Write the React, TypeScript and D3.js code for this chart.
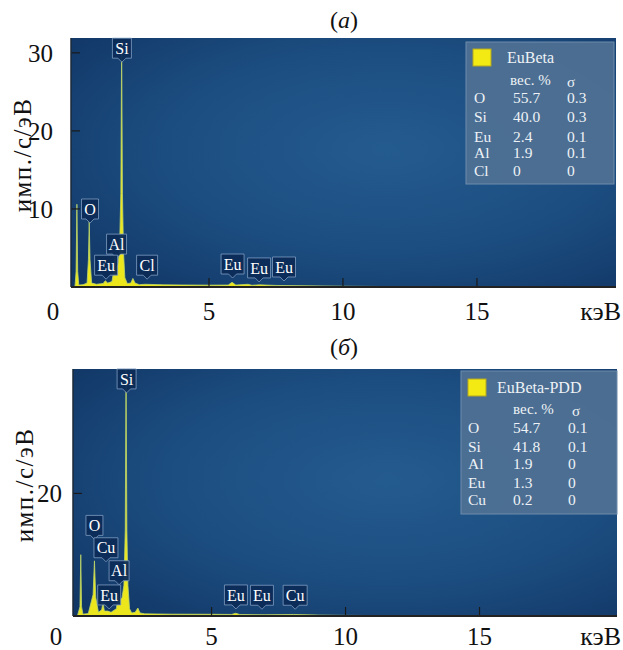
import React from 'react';
import * as d3 from 'd3';

// ---------- data ----------
const xTickValues = [5, 10, 15];
const yTicksA = [10, 20, 30];
const yTicksB = [20];

// spectrum points [keV, counts]
const spectrumA: [number, number][] = [
  [-0.15, 0], [0.0, 0.1], [0.04, 2], [0.07, 10.6], [0.1, 2], [0.14, 0.25], [0.3, 0.3],
  [0.45, 0.5], [0.5, 3.5], [0.53, 8.4], [0.56, 3.5], [0.62, 0.5], [0.8, 0.35],
  [1.05, 0.45], [1.13, 0.8], [1.22, 0.5], [1.38, 0.7], [1.45, 2.2], [1.49, 3.8],
  [1.53, 2.6], [1.6, 2.8], [1.66, 4.6], [1.71, 12], [1.74, 31.5], [1.77, 12],
  [1.81, 4.4], [1.86, 1.2], [1.95, 0.45], [2.08, 0.5], [2.16, 1.1], [2.24, 0.5],
  [2.4, 0.3], [2.62, 0.35], [3.3, 0.28], [4.0, 0.26], [5.0, 0.24], [5.72, 0.25],
  [5.86, 0.6], [6.0, 0.25], [6.46, 0.35], [6.6, 0.22], [6.88, 0.28], [7.5, 0.2],
  [8.5, 0.16], [10, 0.1], [12, 0.05], [20.3, 0.03],
];

const spectrumB: [number, number][] = [
  [-0.2, 0], [0.0, 0.1], [0.09, 1.5], [0.12, 10], [0.15, 1.5], [0.2, 0.3], [0.4, 0.4],
  [0.58, 3.5], [0.63, 9.0], [0.68, 3], [0.78, 0.6], [0.9, 1.0], [0.95, 2.2],
  [1.0, 0.8], [1.13, 0.8], [1.25, 0.6], [1.45, 1.2], [1.52, 3.6], [1.57, 2.5],
  [1.66, 3], [1.73, 5], [1.78, 14], [1.81, 40.5], [1.84, 14], [1.88, 5],
  [1.94, 1.2], [2.02, 0.5], [2.15, 0.6], [2.25, 1.3], [2.33, 0.5], [2.5, 0.35],
  [3.5, 0.3], [5.0, 0.28], [5.75, 0.25], [5.9, 0.45], [6.05, 0.25], [7.0, 0.2],
  [8.05, 0.25], [9, 0.15], [10, 0.1], [12, 0.05], [20.3, 0.03],
];

// peak labels: element, energy of pointer (keV), count level of pointer tip
const labelNamesA = ['Si', 'O', 'Al', 'Eu', 'Cl', 'Eu', 'Eu', 'Eu'];
const labelEnergiesA = [1.75, 0.56, 1.55, 1.16, 2.69, 5.88, 6.87, 7.8];
const labelLevelsA = [28.8, 8.2, 3.7, 1.0, 1.0, 1.15, 0.65, 0.77];

const labelNamesB = ['Si', 'O', 'Cu', 'Al', 'Eu', 'Eu', 'Eu', 'Cu'];
const labelEnergiesB = [1.83, 0.63, 1.06, 1.55, 1.18, 5.91, 6.88, 8.12];
const labelLevelsB = [36.4, 12.5, 8.85, 5.1, 1.15, 1.15, 1.1, 1.1];

const legendTitleA = 'EuBeta';
const legendElementsA = ['O', 'Si', 'Eu', 'Al', 'Cl'];
const legendWeightsA = ['55.7', '40.0', '2.4', '1.9', '0'];
const legendSigmasA = ['0.3', '0.3', '0.1', '0.1', '0'];

const legendTitleB = 'EuBeta-PDD';
const legendElementsB = ['O', 'Si', 'Al', 'Eu', 'Cu'];
const legendWeightsB = ['54.7', '41.8', '1.9', '1.3', '0.2'];
const legendSigmasB = ['0.1', '0.1', '0', '0', '0'];

// ---------- layout / style ----------
const SERIF = '"Liberation Serif", "Times New Roman", serif';
const boxWidths: Record<string, number> = { O: 17, Si: 19, Al: 20, Eu: 23, Cl: 21, Cu: 24 };

type PanelProps = {
  id: string;
  title: string;
  titleY: number;
  plot: { x0: number; x1: number; y0: number; y1: number };
  xDomain: [number, number];
  yDomain: [number, number];
  yTicks: number[];
  spectrum: [number, number][];
  labelNames: string[];
  labelEnergies: number[];
  labelLevels: number[];
  legend: {
    x: number; y: number; w: number; h: number;
    title: string; titleX: number; titleY: number;
    headX: number; sigmaX: number; headY: number;
    colEl: number; colVal: number; colSig: number;
    rowY: number[];
    elements: string[]; weights: string[]; sigmas: string[];
  };
  zeroX: number;
  xLabelY: number;
  yLabelPos: [number, number];
  yTickLabelRight: number;
};

function Panel(p: PanelProps) {
  const { plot } = p;
  const x = d3.scaleLinear().domain(p.xDomain).range([plot.x0, plot.x1]);
  const y = d3.scaleLinear().domain(p.yDomain).range([plot.y1, plot.y0]);
  const area = d3
    .area<[number, number]>()
    .x((d) => x(d[0]))
    .y0(y(0))
    .y1((d) => y(Math.min(d[1], p.yDomain[1] + 1)));
  const gid = `bg-${p.id}`;
  const cid = `clip-${p.id}`;
  const L = p.legend;
  return (
    <g>
      <defs>
        <radialGradient id={gid} cx="58%" cy="45%" r="75%">
          <stop offset="0%" stopColor="#245b8f" />
          <stop offset="55%" stopColor="#1c4d80" />
          <stop offset="100%" stopColor="#113766" />
        </radialGradient>
        <clipPath id={cid}>
          <rect x={plot.x0} y={plot.y0} width={plot.x1 - plot.x0} height={plot.y1 - plot.y0} />
        </clipPath>
      </defs>
      <text x={344} y={p.titleY} textAnchor="middle" fontFamily={SERIF} fontSize={24} fill="#111">
        (<tspan fontStyle="italic">{p.title}</tspan>)
      </text>
      <rect x={plot.x0} y={plot.y0} width={plot.x1 - plot.x0} height={plot.y1 - plot.y0} fill={`url(#${gid})`} />
      <g clipPath={`url(#${cid})`}>
        <path d={area(p.spectrum) || ''} fill="#ece61c" stroke="#bcd56c" strokeWidth={0.8} strokeLinejoin="round" />
      </g>
      {/* ticks */}
      {xTickValues.map((t) => (
        <line key={`xt${t}`} x1={x(t)} x2={x(t)} y1={plot.y1} y2={plot.y1 - 9} stroke="#1a1a1a" strokeWidth={1.2} />
      ))}
      {p.yTicks.map((t) => (
        <line key={`yt${t}`} x1={plot.x0} x2={plot.x0 + 9} y1={y(t)} y2={y(t)} stroke="#1a1a1a" strokeWidth={1.2} />
      ))}
      <line x1={plot.x0} x2={plot.x1} y1={plot.y1} y2={plot.y1} stroke="#222" strokeWidth={2} />
      <line x1={plot.x0} x2={plot.x0} y1={plot.y0} y2={plot.y1} stroke="#1d2a38" strokeWidth={1.5} />
      {/* tick labels */}
      <text x={p.zeroX} y={p.xLabelY} dy="0.35em" textAnchor="middle" fontFamily={SERIF} fontSize={25} fill="#111">0</text>
      {xTickValues.map((t) => (
        <text key={`xl${t}`} x={x(t)} y={p.xLabelY} dy="0.35em" textAnchor="middle" fontFamily={SERIF} fontSize={25} fill="#111">
          {t}
        </text>
      ))}
      <text x={621} y={p.xLabelY} dy="0.35em" textAnchor="end" fontFamily={SERIF} fontSize={26} fill="#111">кэВ</text>
      {p.yTicks.map((t) => (
        <text key={`yl${t}`} x={p.yTickLabelRight} y={y(t)} dy="0.35em" textAnchor="end" fontFamily={SERIF} fontSize={25} fill="#111">
          {t}
        </text>
      ))}
      <text
        transform={`translate(${p.yLabelPos[0]},${p.yLabelPos[1]}) rotate(-90)`}
        dy="0.35em"
        textAnchor="middle"
        fontFamily={SERIF}
        fontSize={25}
        letterSpacing={1.5}
        fill="#111"
      >
        имп./с/эВ
      </text>
      {/* peak labels */}
      {p.labelNames.map((name, i) => {
        const cx = x(p.labelEnergies[i]);
        const tip = y(p.labelLevels[i]);
        const w = boxWidths[name] || 20;
        const bottom = tip - 4;
        const top = bottom - 20;
        const l = cx - w / 2;
        const r = cx + w / 2;
        const d = `M${l},${top}H${r}V${bottom}H${cx + 4}L${cx},${tip}L${cx - 4},${bottom}H${l}Z`;
        return (
          <g key={`lab${i}`}>
            <path d={d} fill="#0c2b57" fillOpacity={0.95} stroke="#7f9ec2" strokeWidth={1} strokeOpacity={0.8} />
            <text x={cx} y={(top + bottom) / 2} dy="0.35em" textAnchor="middle" fontFamily={SERIF} fontSize={16} fill="#ffffff">
              {name}
            </text>
          </g>
        );
      })}
      {/* legend */}
      <g transform={`translate(${L.x},${L.y})`}>
        <rect width={L.w} height={L.h} fill="#4f7194" fillOpacity={0.92} stroke="#6f8cab" strokeWidth={1} />
        <rect x={7} y={L.titleY - 8} width={18} height={17} fill="#f2ea12" stroke="#b5a820" strokeWidth={1} />
        <text x={L.titleX} y={L.titleY} dy="0.35em" fontFamily={SERIF} fontSize={16} fill="#eef2f6">{L.title}</text>
        <text x={L.headX} y={L.headY} dy="0.35em" fontFamily={SERIF} fontSize={15} fill="#eef2f6">вес. %</text>
        <text x={L.sigmaX} y={L.headY + 2} dy="0.3em" fontFamily={SERIF} fontSize={15} fill="#eef2f6">σ</text>
        {L.elements.map((el, i) => (
          <g key={`lg${i}`}>
            <text x={L.colEl} y={L.rowY[i]} dy="0.35em" fontFamily={SERIF} fontSize={15.5} fill="#eef2f6">{el}</text>
            <text x={L.colVal} y={L.rowY[i]} dy="0.35em" fontFamily={SERIF} fontSize={15.5} fill="#eef2f6">{L.weights[i]}</text>
            <text x={L.colSig} y={L.rowY[i]} dy="0.35em" fontFamily={SERIF} fontSize={15.5} fill="#eef2f6">{L.sigmas[i]}</text>
          </g>
        ))}
      </g>
    </g>
  );
}

export default function App() {
  return (
    <svg width={623} height={650} style={{ position: 'absolute', left: 0, top: 0, background: '#fff' }}>
      <Panel
        id="a"
        title="а"
        titleY={28}
        plot={{ x0: 71, x1: 616, y0: 38, y1: 287 }}
        xDomain={[-0.15, 20.19]}
        yDomain={[0, 31.9]}
        yTicks={yTicksA}
        spectrum={spectrumA}
        labelNames={labelNamesA}
        labelEnergies={labelEnergiesA}
        labelLevels={labelLevelsA}
        legend={{
          x: 466, y: 42, w: 148, h: 142,
          title: legendTitleA, titleX: 41, titleY: 15,
          headX: 44, sigmaX: 101, headY: 38,
          colEl: 8, colVal: 47, colSig: 101,
          rowY: [56, 75, 95, 111, 129],
          elements: legendElementsA, weights: legendWeightsA, sigmas: legendSigmasA,
        }}
        zeroX={53}
        xLabelY={311}
        yLabelPos={[22, 155]}
        yTickLabelRight={53}
      />
      <Panel
        id="b"
        title="б"
        titleY={355}
        plot={{ x0: 73, x1: 617, y0: 369, y1: 616 }}
        xDomain={[-0.17, 20.13]}
        yDomain={[0, 40.3]}
        yTicks={yTicksB}
        spectrum={spectrumB}
        labelNames={labelNamesB}
        labelEnergies={labelEnergiesB}
        labelLevels={labelLevelsB}
        legend={{
          x: 461, y: 371, w: 156, h: 143,
          title: legendTitleB, titleX: 36, titleY: 16,
          headX: 52, sigmaX: 111, headY: 38,
          colEl: 7, colVal: 52, colSig: 107,
          rowY: [57, 76, 93, 112, 129],
          elements: legendElementsB, weights: legendWeightsB, sigmas: legendSigmasB,
        }}
        zeroX={56}
        xLabelY={636}
        yLabelPos={[24, 485]}
        yTickLabelRight={62}
      />
    </svg>
  );
}
